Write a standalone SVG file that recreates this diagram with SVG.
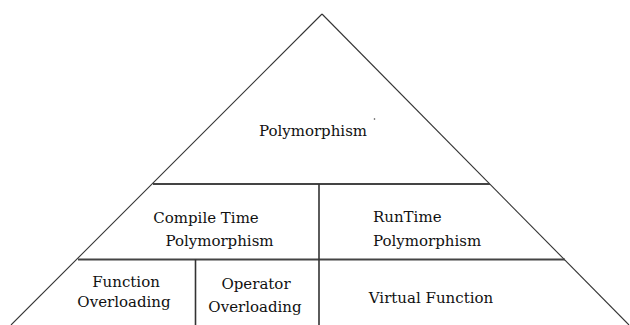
<svg xmlns="http://www.w3.org/2000/svg" width="630" height="325" viewBox="0 0 630 325">
<style>
text{font-family:"DejaVu Serif","Liberation Serif",serif;font-size:15px;fill:#111}
.c{text-anchor:middle}
.side{stroke:#333;stroke-width:1.1;fill:none}
.h{stroke:#444;stroke-width:2;fill:none}
.v{stroke:#333;stroke-width:1.6;fill:none}
</style>
<rect width="630" height="325" fill="#fff"/>
<g id="connectors">
<line class="side" x1="322" y1="14" x2="11" y2="325"/>
<line class="side" x1="322" y1="14" x2="629" y2="325"/>
<line class="h" x1="153" y1="184" x2="490" y2="184"/>
<line class="h" x1="78" y1="259.5" x2="565" y2="259.5"/>
<line class="v" x1="319" y1="184" x2="319" y2="325"/>
<line class="v" x1="195.5" y1="259.5" x2="195.5" y2="325"/>
</g>
<g id="polymorphism">
<text class="c" x="313" y="136">Polymorphism</text>
<circle cx="374.5" cy="119" r="0.8" fill="#444"/>
</g>
<g id="compile-time">
<text class="c" x="206" y="223">Compile Time</text>
<text class="c" x="219.5" y="246">Polymorphism</text>
</g>
<g id="run-time">
<text x="373" y="222">RunTime</text>
<text x="373" y="246">Polymorphism</text>
</g>
<g id="function-overloading">
<text class="c" x="126" y="287">Function</text>
<text class="c" x="124" y="307">Overloading</text>
</g>
<g id="operator-overloading">
<text class="c" x="256" y="289">Operator</text>
<text class="c" x="255" y="312">Overloading</text>
</g>
<g id="virtual-function">
<text class="c" x="431" y="303">Virtual Function</text>
</g>
</svg>
